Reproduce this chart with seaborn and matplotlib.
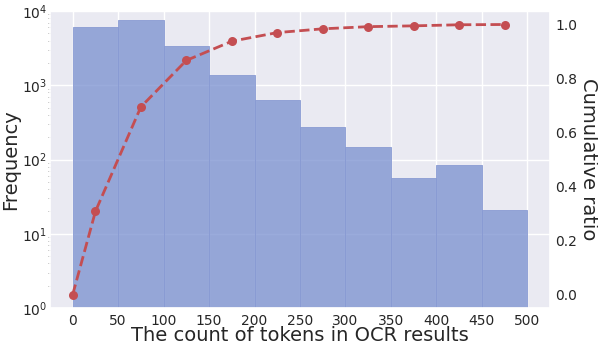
import matplotlib
matplotlib.use("Agg")
import matplotlib.pyplot as plt
import seaborn as sns
import numpy as np

# ---- data ----
bin_edges = [0, 50, 100, 150, 200, 250, 300, 350, 400, 450, 500]
bin_centers = [25, 75, 125, 175, 225, 275, 325, 375, 425, 475]
counts = [6030, 7570, 3380, 1390, 630, 274, 147, 56, 84, 21]

cum_x = [0, 25, 75, 125, 175, 225, 275, 325, 375, 425, 475]
cum_ratio = [0.0, 0.308, 0.695, 0.867, 0.938, 0.970, 0.984, 0.992, 0.995, 0.999, 1.0]

x_ticks = [0, 50, 100, 150, 200, 250, 300, 350, 400, 450, 500]
ratio_ticks = [0.0, 0.2, 0.4, 0.6, 0.8, 1.0]

sns.set_theme(style="darkgrid")
plt.rcParams["font.family"] = ["DejaVu Sans"]

W, H = 598, 344
fig = plt.figure(figsize=(W / 100, H / 100), dpi=100)
ax = fig.add_axes([50 / W, 1 - 308 / H, 500 / W, 297 / H])

sns.histplot(x=bin_centers, weights=counts, bins=bin_edges, ax=ax,
             color="#798fcf", alpha=0.75, edgecolor="#8a9bd3", linewidth=0.6)
ax.set_yscale("log")
ax.set_ylim(1, 1e4)
ax.set_xlim(-25, 525)
ax.set_xticks(x_ticks)
ax.tick_params(axis="x", labelsize=10, length=0, pad=4)
ax.tick_params(axis="y", which="major", labelsize=10, left=True, length=0,
               pad=2)
ax.tick_params(axis="y", which="minor", left=True, length=1.5, width=0.5,
               color="#777777")
ax.set_xlabel("The count of tokens in OCR results", fontsize=14, labelpad=-1)
ax.set_ylabel("Frequency", fontsize=14, labelpad=1)

ax2 = ax.twinx()
sns.lineplot(x=cum_x, y=cum_ratio, ax=ax2, color="#c44e52", linestyle="--",
             marker="o", markersize=6.5, markeredgewidth=0, linewidth=2)
ax2.grid(False)
ax2.set_ylim(-0.05, 1.05)
ax2.set_yticks(ratio_ticks)
ax2.set_yticklabels([f"{v:.1f}" for v in ratio_ticks])
ax2.tick_params(axis="y", which="major", labelsize=10, right=True, length=0, pad=4)
ax2.set_yticks([0.0, 0.2, 0.4, 0.6], minor=True)
ax2.tick_params(axis="y", which="minor", right=True, length=3, width=0.8,
                color="#333333")
ax2.set_ylabel("Cumulative ratio", fontsize=14, rotation=270, labelpad=1,
               va="bottom")
for s in ax2.spines.values():
    s.set_visible(False)

fig.savefig("out.png", dpi=100)
